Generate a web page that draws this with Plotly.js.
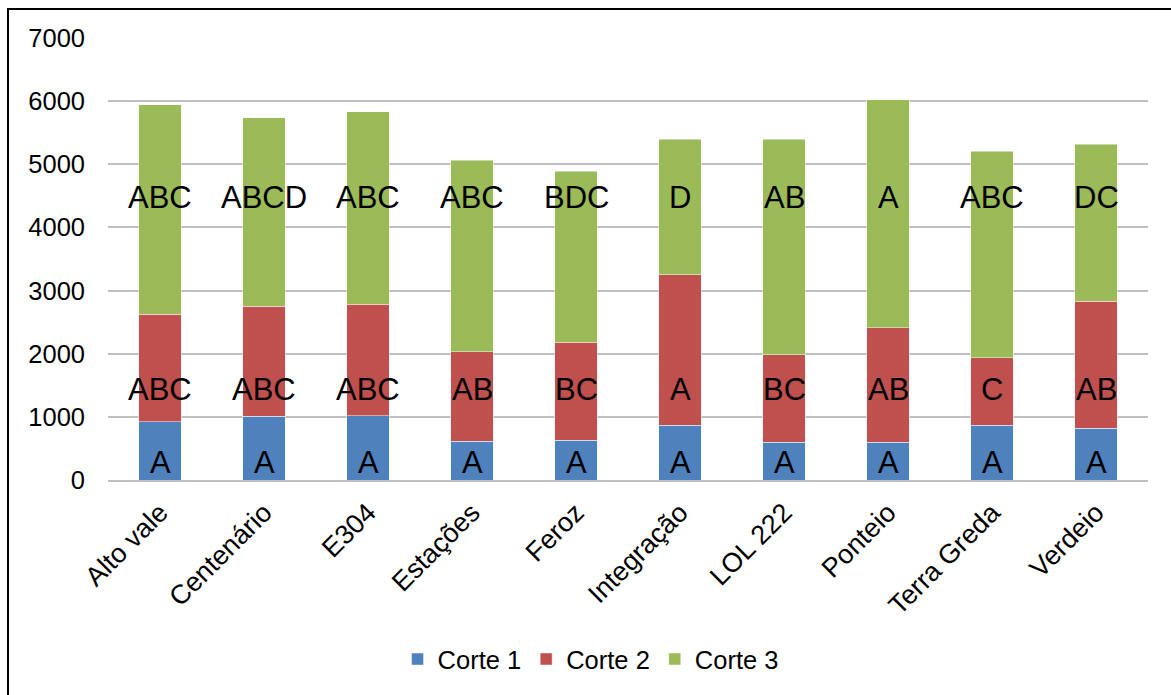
<!DOCTYPE html>
<html>
<head>
<meta charset="utf-8">
<script src="https://cdn.plot.ly/plotly-3.0.1.min.js"></script>
<style>
  html, body { margin: 0; padding: 0; background: #ffffff; }
  #wrap { position: relative; width: 1171px; height: 695px; overflow: hidden; }
  #chart { width: 1171px; height: 695px; }
  #frame { position: absolute; left: 7px; top: 8px; width: 1200px; height: 800px;
           border: 2px solid #000; pointer-events: none; box-sizing: border-box; }
</style>
</head>
<body>
<div id="wrap">
  <div id="chart"></div>
  <div id="frame"></div>
</div>
<script>
// ---- data ----
const categories = ["Alto vale", "Centenário", "E304", "Estações", "Feroz",
                    "Integração", "LOL 222", "Ponteio", "Terra Greda", "Verdeio"];
const corte1 = [921, 1011, 1015, 617, 627, 869, 601, 595, 869, 822];
const corte2 = [1706, 1742, 1765, 1418, 1554, 2383, 1380, 1817, 1071, 2010];
const corte3 = [3318, 2982, 3050, 3028, 2709, 2142, 3413, 3612, 3265, 2483];
const labels1 = ["A", "A", "A", "A", "A", "A", "A", "A", "A", "A"];
const labels2 = ["ABC", "ABC", "ABC", "AB", "BC", "A", "BC", "AB", "C", "AB"];
const labels3 = ["ABC", "ABCD", "ABC", "ABC", "BDC", "D", "AB", "A", "ABC", "DC"];
const seriesNames = ["Corte 1", "Corte 2", "Corte 3"];
const yTicks = [0, 1000, 2000, 3000, 4000, 5000, 6000, 7000];

// ---- styles ----
const colors = ["#4F81BD", "#C0504D", "#9BBB59"];
const FONT = "Liberation Sans, Arial, sans-serif";
const labelLevels = [280, 1430, 4480]; // vertical placement of the letter groups

const seriesVals = [corte1, corte2, corte3];
const traces = seriesVals.map((vals, i) => ({
  type: "bar",
  name: seriesNames[i],
  x: categories,
  y: vals,
  marker: { color: colors[i], line: { color: "rgba(255,255,255,0.6)", width: 0.8 } },
  hoverinfo: "none"
}));

const labelSets = [labels1, labels2, labels3];
const annotations = [];
labelSets.forEach((set, s) => {
  set.forEach((t, i) => {
    annotations.push({
      x: categories[i], y: labelLevels[s], xref: "x", yref: "y",
      text: t, showarrow: false, xanchor: "center", yanchor: "middle",
      font: { family: FONT, size: 31, color: "#000" }
    });
  });
});

const layout = {
  width: 1171, height: 695,
  margin: { l: 108, r: 23, t: 38, b: 212.5, pad: 0 },
  paper_bgcolor: "#ffffff", plot_bgcolor: "#ffffff",
  barmode: "stack", bargap: 0.595,
  font: { family: FONT, size: 25, color: "#000" },
  xaxis: {
    type: "category",
    tickangle: -45,
    tickfont: { family: FONT, size: 27, color: "#000" },
    showgrid: false, zeroline: false,
    showline: true, linecolor: "#c0c0c0", linewidth: 2,
    ticks: "", ticklabelstandoff: 4
  },
  yaxis: {
    range: [0, 7000],
    tickvals: yTicks,
    ticktext: yTicks.map(String),
    tickfont: { family: FONT, size: 25.5, color: "#000" },
    showgrid: true, gridcolor: "#c0c0c0", gridwidth: 2,
    zeroline: false, showline: false,
    ticks: "", ticklabelstandoff: 22
  },
  legend: {
    orientation: "h",
    x: 0.464, xanchor: "center",
    y: -0.406, yanchor: "middle",
    font: { family: FONT, size: 25.5, color: "#000" },
    traceorder: "normal",
    itemwidth: 30
  },
  annotations: annotations,
  showlegend: true
};

Plotly.newPlot("chart", traces, layout, { displayModeBar: false, staticPlot: true });
</script>
</body>
</html>
